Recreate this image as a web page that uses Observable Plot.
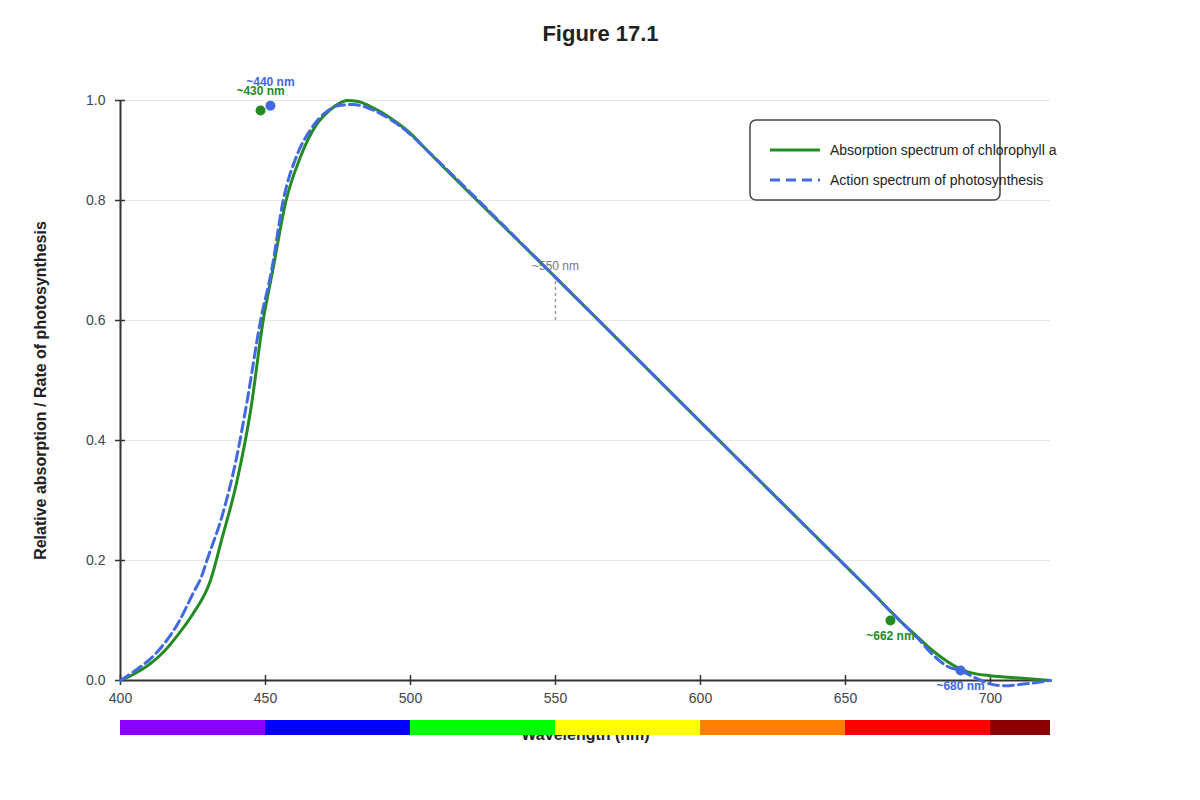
<!DOCTYPE html>
<html>
<head>
<meta charset="utf-8">
<script src="https://cdn.jsdelivr.net/npm/d3@7"></script>
<script src="https://cdn.jsdelivr.net/npm/@observablehq/plot@0.6"></script>
<style>
  html, body { margin: 0; padding: 0; background: #fff; }
  #chart svg { display: block; }
</style>
</head>
<body>
<div id="chart"></div>
<script>
// ---- data ----
const absWavelengths = [400,405,410,415,420,425,431,435,440,445,449.2,452.5,457.1,462,467.8,472,475.9,478,482,486,490,495,500,505,550,600,650,660,665,670,675,680,685,690,695,700,710,720.7];
const absValues      = [0,0.0117,0.027,0.0483,0.0773,0.1112,0.1663,0.2368,0.3287,0.4543,0.60,0.6833,0.80,0.872,0.928,0.95,0.963,0.9667,0.965,0.957,0.947,0.931,0.912,0.887,0.672,0.431,0.191,0.143,0.118,0.094,0.072,0.050,0.032,0.018,0.011,0.008,0.004,0];

const actWavelengths = [400,405,410,415,420,425,428,430,435,440,443.7,448.3,452.1,456.1,460.9,465.5,471.3,475,480,485,490,495,500,505,550,600,650,660,665,670,675,680,685,690,695,700,705,710,715,720.7];
const actValues      = [0,0.0164,0.0348,0.0609,0.0967,0.145,0.174,0.203,0.2736,0.371,0.4667,0.60,0.6833,0.80,0.876,0.918,0.949,0.958,0.96,0.955,0.944,0.929,0.91,0.887,0.672,0.431,0.191,0.143,0.118,0.094,0.070,0.0435,0.024,0.0155,0.004,-0.006,-0.0087,-0.0068,-0.004,0];

const peakLabels      = ["~430 nm", "~440 nm", "~662 nm", "~680 nm"];
const peakWavelengths = [448.3, 451.7, 665.5, 689.7];
const peakValues      = [0.95, 0.958, 0.10, 0.0167];
const peakSeries      = ["abs", "act", "abs", "act"];

const bandStarts = [400, 450, 500, 550, 600, 650, 700];
const bandEnds   = [450, 500, 550, 600, 650, 700, 720.7];
const bandColors = ["#8B00FF", "#0000FF", "#00FF00", "#FFFF00", "#FF8000", "#FF0000", "#8B0000"];

const xTicks = [400, 450, 500, 550, 600, 650, 700];
const yTicks = [0, 0.2, 0.4, 0.6, 0.8, 0.9667];

const seriesNames = ["Absorption spectrum of chlorophyll a", "Action spectrum of photosynthesis"];

// ---- tables ----
const GREEN = "#228B22", BLUE = "#4169E1";
const absData = absWavelengths.map((w, i) => ({w, v: absValues[i]}));
const actData = actWavelengths.map((w, i) => ({w, v: actValues[i]}));
const peaks = peakLabels.map((label, i) => ({label, w: peakWavelengths[i], v: peakValues[i], c: peakSeries[i] === "abs" ? GREEN : BLUE}));
const labelDy = [-19, -24, 16, 16];
const bands = bandStarts.map((s, i) => ({s, e: bandEnds[i], c: bandColors[i]}));

const FONT = "Liberation Sans, Arial, Helvetica, sans-serif";

const plot = Plot.plot({
  width: 1200,
  height: 800,
  marginLeft: 120,
  marginRight: 150,
  marginTop: 100,
  marginBottom: 120,
  style: {fontFamily: FONT, color: "#444", background: "#fff"},
  x: {domain: [400, 720.7]},
  y: {domain: [0, 0.9667]},
  marks: [
    Plot.gridY(yTicks, {stroke: "#e6e6e6", strokeOpacity: 1}),
    Plot.axisX(xTicks, {tickSize: 0, tickPadding: 13, fontSize: 14, label: null, fill: "#444"}),
    Plot.axisY(yTicks, {tickSize: 0, tickPadding: 15, fontSize: 14, label: null, tickFormat: d3.format(".1f"), fill: "#444"}),
    Plot.ruleY([0], {stroke: "#333", strokeWidth: 2}),
    Plot.ruleX([400], {y1: 0, y2: 0.9667, stroke: "#333", strokeWidth: 2}),
    Plot.ruleX(xTicks, {y1: 0, y2: 0, insetTop: -5, insetBottom: -5, stroke: "#333", strokeWidth: 1.5}),
    Plot.ruleY(yTicks, {x1: 400, x2: 400, insetLeft: -5, insetRight: -5, stroke: "#333", strokeWidth: 1.5}),
    // 550 nm annotation
    Plot.ruleX([550], {y1: 0.6, y2: 0.6667, stroke: "#999", strokeWidth: 1.5, strokeDasharray: "3,3"}),
    Plot.text(["~550 nm"], {x: 550, y: 0.6667, dy: -14, fill: "#777", fontSize: 12}),
    // curves
    Plot.line(absData, {x: "w", y: "v", stroke: GREEN, strokeWidth: 3, curve: "monotone-x"}),
    Plot.line(actData, {x: "w", y: "v", stroke: BLUE, strokeWidth: 3, strokeDasharray: "10,5", curve: "monotone-x"}),
    // peaks
    Plot.dot(peaks, {x: "w", y: "v", r: 5, fill: "c", stroke: "none"}),
    ...peaks.map((p, i) => Plot.text([p], {x: "w", y: "v", text: "label", dy: labelDy[i], fill: p.c, fontSize: 12, fontWeight: "bold"})),
    // axis titles & title
    Plot.text(["Wavelength (nm)"], {frameAnchor: "bottom", lineAnchor: "middle", dy: 54, fontSize: 16, fontWeight: "bold", fill: "#222"}),
    Plot.text(["Relative absorption / Rate of photosynthesis"], {frameAnchor: "left", textAnchor: "middle", lineAnchor: "middle", dx: -80, rotate: -90, fontSize: 16, fontWeight: "bold", fill: "#222"}),
    Plot.text(["Figure 17.1"], {frameAnchor: "top", lineAnchor: "middle", dx: 15, dy: -67, fontSize: 22, fontWeight: "bold", fill: "#222"}),
    // spectrum band
    Plot.rect(bands, {x1: "s", x2: "e", y1: -0.0667, y2: -0.0917, fill: "c"})
  ]
});

document.getElementById("chart").appendChild(plot);

// legend
const svg = d3.select(plot);
const lg = svg.append("g").attr("font-family", FONT).attr("text-anchor", "start");
lg.append("rect").attr("x", 750).attr("y", 120).attr("width", 250).attr("height", 80).attr("rx", 6)
  .attr("fill", "#fff").attr("stroke", "#444").attr("stroke-width", 1.5);
lg.append("line").attr("x1", 770).attr("x2", 820).attr("y1", 150).attr("y2", 150)
  .attr("stroke", GREEN).attr("stroke-width", 3);
lg.append("line").attr("x1", 770).attr("x2", 820).attr("y1", 180).attr("y2", 180)
  .attr("stroke", BLUE).attr("stroke-width", 3).attr("stroke-dasharray", "10,6");
lg.append("text").attr("x", 830).attr("y", 150).attr("dy", "0.35em").attr("font-size", 14).attr("fill", "#222").text(seriesNames[0]);
lg.append("text").attr("x", 830).attr("y", 180).attr("dy", "0.35em").attr("font-size", 14).attr("fill", "#222").text(seriesNames[1]);
</script>
</body>
</html>
